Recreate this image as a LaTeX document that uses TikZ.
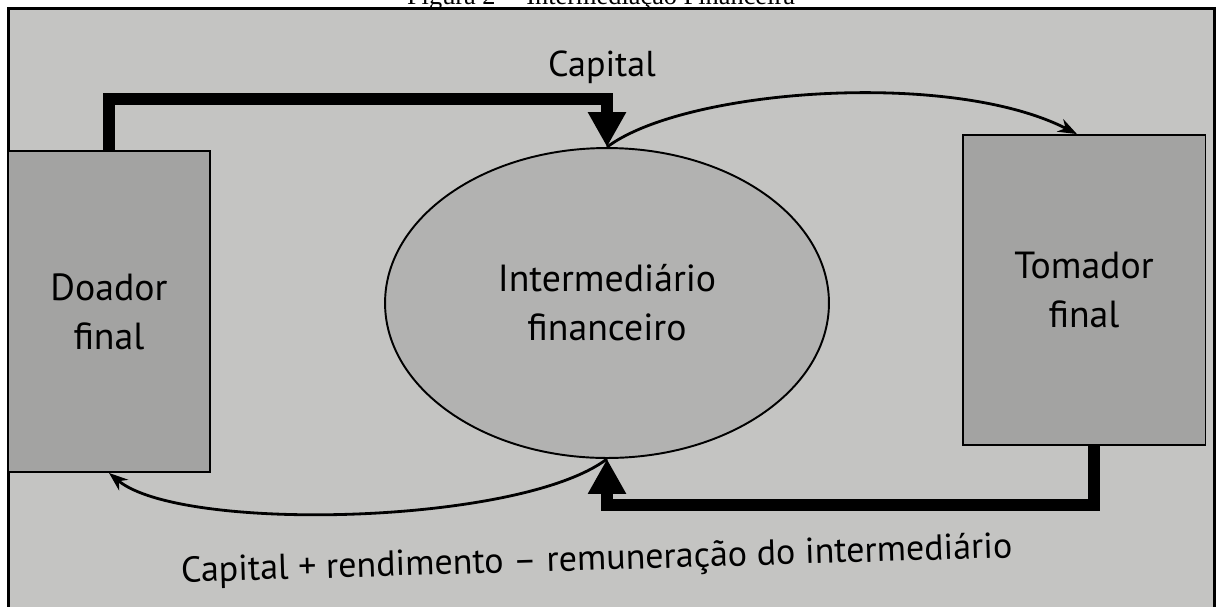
\documentclass[tikz,border=0pt]{standalone}
\usepackage{fontspec}
\setmainfont{PT Sans}
\newfontfamily\titulofont{Liberation Serif}
\usetikzlibrary{arrows.meta,shapes.geometric}
\definecolor{fundo}{RGB}{196,196,194}
\definecolor{caixa}{RGB}{163,163,162}
\definecolor{bola}{RGB}{178,178,177}

\begin{document}
\begin{tikzpicture}[x=0.02cm,y=-0.02cm,
	bloco/.style={draw=black,line width=1.1pt,fill=caixa,align=center,inner sep=0pt,font=\fontsize{21.5}{28}\selectfont},
	grosso/.style={line width=6.4pt,-{Triangle[width=0.72cm,length=0.7cm]}},
	fino/.style={line width=1.6pt,-{Stealth[length=0.38cm,width=0.28cm]}},
	rotulo/.style={font=\fontsize{20.5}{24}\selectfont,anchor=base}]
	\useasboundingbox (0,0) rectangle (1216,606);
	\node[anchor=base,font=\titulofont\fontsize{15}{18}\selectfont] (titulo) at (601,4) {Figura 2 -- Intermediação Financeira};
	\draw[line width=1.7pt,fill=fundo] (8.5,8.5) rectangle (1214,620);

	\node[bloco,minimum width=4.04cm,minimum height=6.42cm] (doador) at (109,311.5) {Doador\\final};
	\node[bloco,minimum width=4.86cm,minimum height=6.2cm] (tomador) at (1084,290) {Tomador\\final};
	\node[bloco,ellipse,fill=bola,minimum width=8.88cm,minimum height=6.2cm] (inter) at (607,303) {Intermediário\\financeiro};

	\draw[grosso] (doador.north) -- ++(0,-51) -| (inter.north);
	\draw[fino] (inter.north) .. controls +(77,-58) and +(-127,-65) .. ([xshift=-0.14cm]tomador.north);
	\draw[grosso] ([xshift=0.2cm]tomador.south) -- ++(0,59) -| (inter.south);
	\draw[fino] (inter.south) .. controls +(-87,66) and +(72,60) .. (doador.south);

	\node[rotulo] (capital) at (602,76) {Capital};
	\node[rotulo,rotate=1.7] (retorno) at (597,570) {Capital + rendimento -- remuneração do intermediário};
\end{tikzpicture}
\end{document}
